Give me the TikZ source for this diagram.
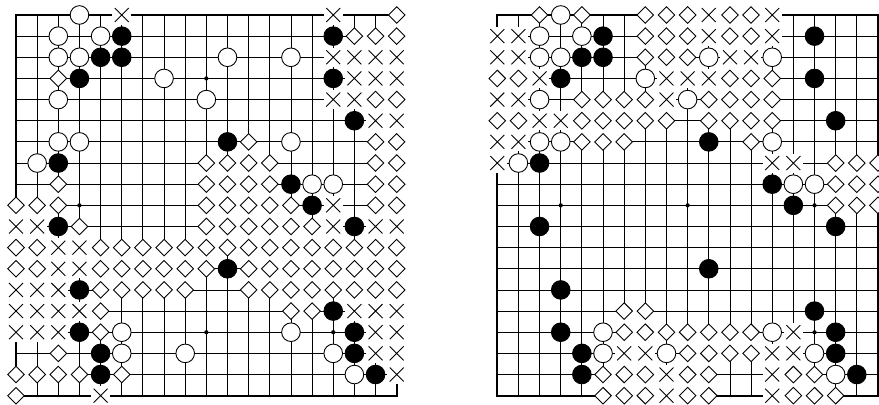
\documentclass[tikz,border=0pt]{standalone}
\usetikzlibrary{shapes.geometric}

% ==================== BOARD STORAGE ====================
% one macro per point: go-<board>-<col>-<row>, holding . W B X D
\newcount\gocol
\newcount\gomk
\newif\ifgoedge
\def\goscan#1{%
  \ifx#1\relax\else
    \expandafter\gdef\csname go-\gobd-\the\gocol-\gorw\endcsname{#1}%
    \global\advance\gocol by 1
    \expandafter\goscan
  \fi}
\newcommand{\gorow}[3]{\gdef\gobd{#1}\gdef\gorw{#2}\global\gocol=0\relax\goscan#3\relax}

% counts X / D marks at a point
\newcommand{\gomark}[1]{%
  \edef\gotmpc{\csname go-#1\endcsname}%
  \if X\gotmpc\advance\gomk by 1 \fi
  \if D\gotmpc\advance\gomk by 1 \fi}

% one grid segment, left out between two marked points
\newcommand{\goline}[5]{%
  \gomk=0
  \gomark{#1-#2-#3}\gomark{#1-#4-#5}%
  \ifnum\gomk<2
    \goedgefalse
    \ifnum#3=#5
      \ifnum#3=0 \goedgetrue\fi
      \ifnum#3=18 \goedgetrue\fi
    \else
      \ifnum#2=0 \goedgetrue\fi
      \ifnum#2=18 \goedgetrue\fi
    \fi
    \ifgoedge\draw[edgeline] (#2,#3) -- (#4,#5);\else\draw[gridline] (#2,#3) -- (#4,#5);\fi
  \fi}

\newcommand{\gogrid}[1]{%
  \foreach \gy in {0,...,18}{
    \foreach \gx in {0,...,17}{
      \pgfmathtruncatemacro\gxn{\gx+1}
      \goline{#1}{\gx}{\gy}{\gxn}{\gy}
      \goline{#1}{\gy}{\gx}{\gy}{\gxn}
    }}
  % star points
  \foreach \gx in {3,9,15}{\foreach \gy in {3,9,15}{\fill (\gx,\gy) circle (0.05cm);}}}

\newcommand{\gostones}[1]{%
  \foreach \gy in {0,...,18}{
    \foreach \gx in {0,...,18}{
      \edef\gotmpc{\csname go-#1-\gx-\gy\endcsname}%
      \if W\gotmpc\node[whitestone] (p#1-\gx-\gy) at (\gx,\gy) {};\fi
      \if B\gotmpc\node[blackstone] (p#1-\gx-\gy) at (\gx,\gy) {};\fi
      \if X\gotmpc\node[crossmark] (p#1-\gx-\gy) at (\gx,\gy) {};\fi
      \if D\gotmpc\node[diamondmark] (p#1-\gx-\gy) at (\gx,\gy) {};\fi
    }}}

% ==================== LEFT BOARD ====================
\gorow{1}{0}{...W.X.........X..D}
\gorow{1}{1}{..W.WB.........BDDD}
\gorow{1}{2}{..WWBB....W..W.XXXX}
\gorow{1}{3}{..DB...W.......BXXX}
\gorow{1}{4}{..W......W.....XXDD}
\gorow{1}{5}{................BXX}
\gorow{1}{6}{..WW......BD.W...DD}
\gorow{1}{7}{.WB......DDDD....DD}
\gorow{1}{8}{..D......DDDDBWW.DD}
\gorow{1}{9}{DDD......DDDDDBX.DD}
\gorow{1}{10}{XXBD.....DDDDDDXBXX}
\gorow{1}{11}{DDXXDDDDDDDDDDDDDDD}
\gorow{1}{12}{DDXXDDDDDDBDDDDDDDD}
\gorow{1}{13}{XXXBDDDDD..DDDDDDDD}
\gorow{1}{14}{XXXXD........DDBXXX}
\gorow{1}{15}{XXXBDW.......W..BXX}
\gorow{1}{16}{..D.BW..W......WBXX}
\gorow{1}{17}{DDDDBD..........WBX}
\gorow{1}{18}{D...X..............}

% ==================== RIGHT BOARD ====================
\gorow{2}{0}{..DWD..DDDXDDX.....}
\gorow{2}{1}{XXW.WB.DDDXDDX.B...}
\gorow{2}{2}{XXWWBB.DDDWXXW.....}
\gorow{2}{3}{DDXB...WXXXDDD.B...}
\gorow{2}{4}{XXW.DDDDXWDDDD.....}
\gorow{2}{5}{DDXXDDDDD.DDDD..B..}
\gorow{2}{6}{XXWWDDD...B.DW.....}
\gorow{2}{7}{XWB..........XX.DDD}
\gorow{2}{8}{.............BWWDDD}
\gorow{2}{9}{..............B.DDD}
\gorow{2}{10}{..B.............B..}
\gorow{2}{11}{...................}
\gorow{2}{12}{..........B........}
\gorow{2}{13}{...B...............}
\gorow{2}{14}{......DD.......B...}
\gorow{2}{15}{...B.WDDDDDDDWX.B..}
\gorow{2}{16}{....BWXXWDDDDXXWB..}
\gorow{2}{17}{....BDDDXDD..XDDWB.}
\gorow{2}{18}{.....DDDXDD..XDDD..}

\begin{document}
\begin{tikzpicture}[
    x=0.5cm, y=-0.5cm,
    gridline/.style={line width=0.55pt},
    edgeline/.style={line width=1.2pt, line cap=rect},
    whitestone/.style={circle, draw, fill=white, line width=0.6pt, minimum size=0.44cm, inner sep=0pt},
    blackstone/.style={circle, draw, fill=black, line width=0.6pt, minimum size=0.44cm, inner sep=0pt},
    diamondmark/.style={diamond, draw, fill=white, line width=0.6pt, minimum width=0.4cm, minimum height=0.4cm, inner sep=0pt},
    crossmark/.style={rectangle, fill=white, minimum size=0.45cm, inner sep=0pt,
        path picture={\draw[line width=0.6pt]
            ([shift={(-0.165cm,-0.165cm)}]path picture bounding box.center) -- ([shift={(0.165cm,0.165cm)}]path picture bounding box.center)
            ([shift={(-0.165cm,0.165cm)}]path picture bounding box.center) -- ([shift={(0.165cm,-0.165cm)}]path picture bounding box.center);}}
]
\fill[white] (-0.757,-0.709) rectangle (40.805,18.44);
\useasboundingbox (-0.757,-0.709) rectangle (40.805,18.44);

% ==================== LEFT BOARD ====================
\gogrid{1}
\gostones{1}

% ==================== RIGHT BOARD ====================
\begin{scope}[xshift=11.378cm]
\gogrid{2}
\gostones{2}
\end{scope}

\end{tikzpicture}
\end{document}
